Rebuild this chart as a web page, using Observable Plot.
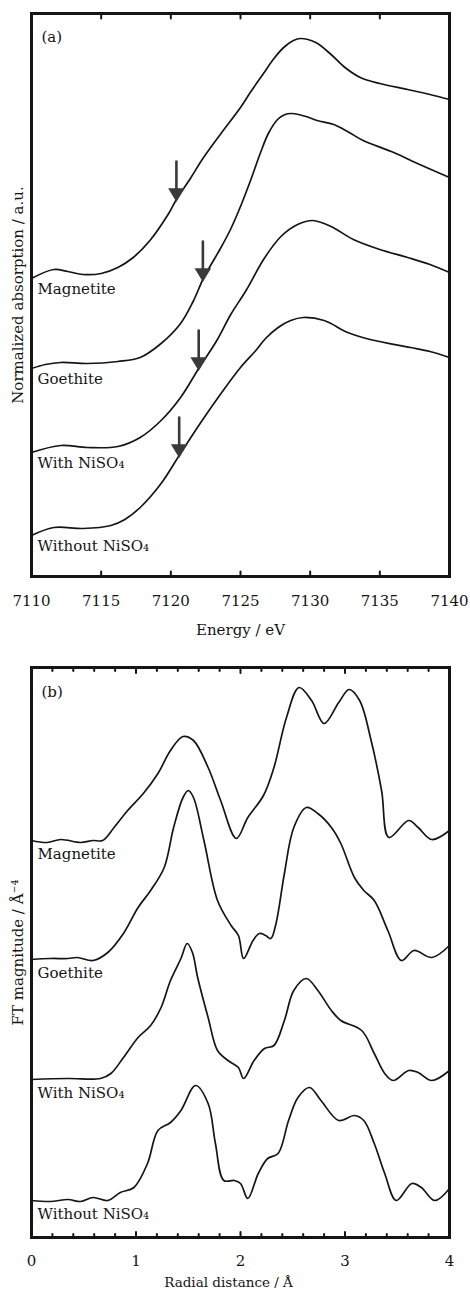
<!DOCTYPE html>
<html><head><meta charset="utf-8">
<script src="https://cdn.jsdelivr.net/npm/d3@7"></script>
<script src="https://cdn.jsdelivr.net/npm/@observablehq/plot@0.6"></script>
<style>body{margin:0;background:#fff;} #chart svg{display:block;}</style>
</head><body><div id="chart"></div>
<script>
// ---------- Panel (a): Fe K-edge XANES ----------
const sampleNames = ["Magnetite", "Goethite", "With NiSO₄", "Without NiSO₄"];

const xanesMagnetite = [[7110,2.98],[7111.6,3.07],[7112.6,3.05],[7113.7,3.02],[7115,3.03],[7116.2,3.09],[7117.3,3.19],[7118.5,3.36],[7119.8,3.62],[7120.4,3.77],[7121.4,3.98],[7122.3,4.18],[7123.6,4.43],[7125,4.69],[7125.7,4.84],[7126.65,5.03],[7127.4,5.18],[7128.1,5.29],[7128.8,5.36],[7129.3,5.38],[7130.4,5.34],[7131.5,5.22],[7132.5,5.09],[7133.6,4.99],[7135,4.93],[7137,4.87],[7138.6,4.82],[7140,4.77]];
const xanesGoethite = [[7110,2.08],[7111,2.12],[7112.1,2.14],[7114,2.13],[7116.2,2.15],[7117.8,2.19],[7119.3,2.33],[7120.7,2.53],[7121.6,2.75],[7122.3,2.97],[7122.85,3.11],[7123.56,3.28],[7124.28,3.47],[7125,3.7],[7125.72,3.96],[7126.44,4.24],[7127,4.43],[7127.66,4.57],[7128.2,4.62],[7128.7,4.63],[7129.7,4.6],[7130.5,4.56],[7131.7,4.52],[7132.8,4.44],[7133.8,4.36],[7136,4.24],[7137.7,4.13],[7140,3.99]];
const xanesWithNi = [[7110,1.24],[7112.1,1.31],[7114,1.29],[7116.2,1.3],[7117.8,1.39],[7119.3,1.56],[7120.7,1.79],[7122,2.08],[7123.3,2.36],[7124.3,2.62],[7125.4,2.86],[7126.7,3.18],[7127.9,3.4],[7129.1,3.52],[7130.2,3.56],[7131.5,3.5],[7133.1,3.37],[7135,3.27],[7137,3.19],[7138.6,3.12],[7140,3.04]];
const xanesWithoutNi = [[7110,0.41],[7111.6,0.49],[7113.7,0.48],[7115.7,0.51],[7116.7,0.57],[7117.8,0.69],[7119.3,0.93],[7120.6,1.21],[7122.1,1.53],[7123.6,1.83],[7125,2.09],[7126.1,2.26],[7126.8,2.38],[7127.7,2.49],[7128.6,2.56],[7129.5,2.59],[7131,2.56],[7132.7,2.44],[7134.3,2.37],[7137.2,2.29],[7138.6,2.25],[7140,2.19]];

const edgeArrowE = [7120.4, 7122.3, 7122.0, 7120.6];
const edgeArrowY = [3.77, 2.97, 2.08, 1.21];
const energyTicks = [7110, 7115, 7120, 7125, 7130, 7135, 7140];

// ---------- Panel (b): Fourier transforms ----------
const ftMagnetite = [[0,3.97],[0.15,3.95],[0.28,3.98],[0.47,3.95],[0.59,3.97],[0.68,3.97],[0.79,4.1],[0.92,4.27],[1.07,4.44],[1.21,4.64],[1.33,4.87],[1.45,5.01],[1.55,4.97],[1.69,4.7],[1.81,4.37],[1.96,3.99],[2.07,4.2],[2.22,4.42],[2.32,4.7],[2.44,5.2],[2.56,5.5],[2.68,5.37],[2.8,5.14],[2.94,5.35],[3.04,5.48],[3.14,5.37],[3.25,4.97],[3.35,4.47],[3.42,4.0],[3.61,4.17],[3.7,4.1],[3.83,3.98],[4.0,4.07]];
const ftGoethite = [[0,2.78],[0.18,2.79],[0.35,2.79],[0.44,2.8],[0.59,2.77],[0.73,2.85],[0.88,3.04],[1.02,3.3],[1.14,3.47],[1.27,3.7],[1.36,4.1],[1.45,4.4],[1.5,4.47],[1.55,4.4],[1.65,3.97],[1.78,3.37],[1.91,3.12],[1.98,3.02],[2.03,2.79],[2.12,2.97],[2.18,3.04],[2.24,3.02],[2.29,2.99],[2.34,3.14],[2.42,3.64],[2.51,4.1],[2.63,4.3],[2.74,4.24],[2.87,4.1],[2.96,3.94],[3.09,3.6],[3.18,3.47],[3.28,3.37],[3.41,3.07],[3.54,2.77],[3.66,2.87],[3.83,2.8],[4.0,2.92]];
const ftWithNi = [[0,1.58],[0.35,1.59],[0.66,1.59],[0.76,1.64],[0.88,1.8],[1.02,2.0],[1.14,2.12],[1.24,2.3],[1.33,2.57],[1.43,2.79],[1.49,2.94],[1.54,2.85],[1.59,2.6],[1.69,2.2],[1.78,1.87],[1.88,1.77],[1.98,1.7],[2.03,1.59],[2.13,1.77],[2.23,1.89],[2.32,1.92],[2.42,2.17],[2.51,2.47],[2.63,2.59],[2.74,2.47],[2.87,2.27],[2.96,2.17],[3.16,2.07],[3.28,1.84],[3.38,1.64],[3.46,1.57],[3.61,1.67],[3.7,1.65],[3.83,1.57],[4.0,1.67]];
const ftWithoutNi = [[0,0.37],[0.18,0.36],[0.35,0.38],[0.47,0.36],[0.59,0.4],[0.73,0.37],[0.85,0.45],[0.98,0.5],[1.11,0.74],[1.21,1.07],[1.33,1.15],[1.43,1.27],[1.57,1.52],[1.69,1.34],[1.76,0.94],[1.84,0.57],[1.94,0.57],[2.0,0.54],[2.07,0.39],[2.17,0.64],[2.26,0.79],[2.36,0.84],[2.46,1.17],[2.55,1.4],[2.66,1.5],[2.77,1.37],[2.94,1.17],[3.09,1.22],[3.18,1.17],[3.28,0.94],[3.38,0.64],[3.49,0.37],[3.64,0.54],[3.73,0.5],[3.86,0.37],[4.0,0.49]];

const radialTicks = [0, 1, 2, 3, 4];
const radialMinorTicks = [0.2,0.4,0.6,0.8,1.2,1.4,1.6,1.8,2.2,2.4,2.6,2.8,3.2,3.4,3.6,3.8];

// ---------- helpers ----------
const INK = "#151515";
const FONT = "DejaVu Serif";
const tickShape = {draw(c, l) { c.moveTo(0, 0); c.lineTo(0, -l); }};
const arrowShape = {draw(c, l) {
  const h = 10, w = 6;
  c.moveTo(0, -l); c.lineTo(0, -h);
  c.moveTo(-w, -h); c.lineTo(w, -h); c.lineTo(0, 0); c.closePath();
}};

function innerTicks(values, len, sw) {
  return [
    Plot.vector(values, {x: d => d, frameAnchor: "bottom", rotate: 0, anchor: "start", length: len, shape: tickShape, stroke: INK, strokeWidth: sw}),
    Plot.vector(values, {x: d => d, frameAnchor: "top", rotate: 180, anchor: "start", length: len, shape: tickShape, stroke: INK, strokeWidth: sw})
  ];
}

function seriesMarks(seriesList, labelDy) {
  const marks = [];
  seriesList.forEach((s, i) => {
    marks.push(Plot.line(s, {x: d => d[0], y: d => d[1], curve: "catmull-rom", stroke: INK, strokeWidth: 1.7}));
    marks.push(Plot.text([s[0]], {x: d => d[0], y: d => d[1], text: () => sampleNames[i], dx: 6, dy: labelDy, textAnchor: "start", lineAnchor: "middle", fontSize: 15, fill: INK}));
  });
  return marks;
}

const style = {fontFamily: FONT, fontSize: "15px", background: "white", color: INK, overflow: "visible"};

// ---------- Panel (a) ----------
const plotA = Plot.plot({
  width: 470, height: 640,
  marginLeft: 31, marginRight: 21, marginTop: 13, marginBottom: 64,
  style,
  x: {domain: [7110, 7140]},
  y: {domain: [0, 5.63], axis: null},
  marks: [
    Plot.axisX({ticks: energyTicks, tickSize: 0, tickPadding: 19, tickFormat: d => String(d), label: null, fontSize: 15, fill: INK}),
    ...seriesMarks([xanesMagnetite, xanesGoethite, xanesWithNi, xanesWithoutNi], 11),
    Plot.vector(edgeArrowE.map((e, i) => [e, edgeArrowY[i]]), {x: d => d[0], y: d => d[1], rotate: 0, anchor: "start", length: 38, shape: arrowShape, stroke: "#3a3a3a", fill: "#3a3a3a", strokeWidth: 2.6, strokeLinejoin: "miter"}),
    ...innerTicks(energyTicks, 5, 2),
    Plot.frame({stroke: INK, strokeWidth: 3}),
    Plot.text(["(a)"], {frameAnchor: "top-left", dx: 10, dy: 24, text: d => d, textAnchor: "start", lineAnchor: "middle", fontSize: 15, fill: INK}),
    Plot.text(["Normalized absorption / a.u."], {frameAnchor: "left", dx: -13, rotate: -90, text: d => d, textAnchor: "middle", lineAnchor: "middle", fontSize: 15, fill: INK}),
    Plot.text(["Energy / eV"], {frameAnchor: "bottom", dy: 54, text: d => d, textAnchor: "middle", lineAnchor: "middle", fontSize: 15, fill: INK})
  ]
});

// ---------- Panel (b) ----------
const plotB = Plot.plot({
  width: 470, height: 652,
  marginLeft: 31, marginRight: 21, marginTop: 27, marginBottom: 55,
  style,
  x: {domain: [0, 4]},
  y: {domain: [0, 5.70], axis: null},
  marks: [
    Plot.axisX({ticks: radialTicks, tickSize: 0, tickPadding: 18, tickFormat: d => String(d), label: null, fontSize: 15, fill: INK}),
    ...seriesMarks([ftMagnetite, ftGoethite, ftWithNi, ftWithoutNi], 14),
    ...innerTicks(radialMinorTicks, 3.5, 2),
    ...innerTicks(radialTicks, 5.5, 2),
    Plot.frame({stroke: INK, strokeWidth: 3}),
    Plot.text(["(b)"], {frameAnchor: "top-left", dx: 10, dy: 25, text: d => d, textAnchor: "start", lineAnchor: "middle", fontSize: 15, fill: INK}),
    Plot.text(["FT magnitude / Å⁻⁴"], {frameAnchor: "left", dx: -13, rotate: -90, text: d => d, textAnchor: "middle", lineAnchor: "middle", fontSize: 15, fill: INK}),
    Plot.text(["Radial distance / Å"], {frameAnchor: "bottom", dy: 45, dx: -12, text: d => d, textAnchor: "middle", lineAnchor: "middle", fontSize: 13.5, fill: INK})
  ]
});

const root = document.getElementById("chart");
root.appendChild(plotA);
root.appendChild(plotB);
</script></body></html>
